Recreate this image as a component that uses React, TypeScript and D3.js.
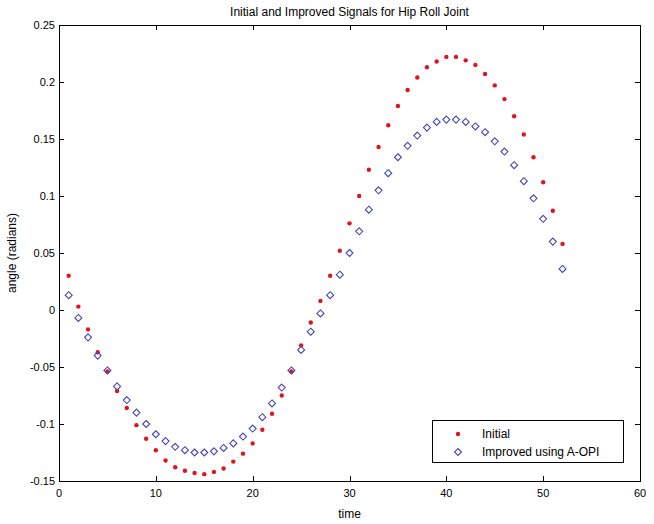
import React, { useEffect, useRef } from "react";
import * as d3 from "d3";

const time = d3.range(1, 53);
const initialSignal = [
  0.030, 0.003, -0.017, -0.037, -0.054, -0.071, -0.086, -0.101, -0.113, -0.123,
  -0.132, -0.138, -0.141, -0.143, -0.144, -0.142, -0.139, -0.133, -0.126, -0.117,
  -0.105, -0.091, -0.075, -0.054, -0.031, -0.011, 0.008, 0.030, 0.052, 0.076,
  0.100, 0.123, 0.143, 0.162, 0.179, 0.193, 0.204, 0.213, 0.218, 0.222,
  0.222, 0.219, 0.215, 0.207, 0.197, 0.185, 0.170, 0.154, 0.134, 0.112,
  0.087, 0.058,
];
const improvedSignal = [
  0.013, -0.007, -0.024, -0.040, -0.053, -0.067, -0.079, -0.090, -0.100, -0.109,
  -0.115, -0.120, -0.123, -0.125, -0.125, -0.124, -0.121, -0.117, -0.111, -0.104,
  -0.094, -0.082, -0.068, -0.053, -0.035, -0.019, -0.003, 0.013, 0.031, 0.050,
  0.069, 0.088, 0.105, 0.120, 0.134, 0.144, 0.153, 0.160, 0.165, 0.167,
  0.167, 0.165, 0.161, 0.156, 0.148, 0.139, 0.127, 0.113, 0.098, 0.080,
  0.060, 0.036,
];
const xTicks = [0, 10, 20, 30, 40, 50, 60];
const yTicks = [-0.15, -0.1, -0.05, 0, 0.05, 0.1, 0.15, 0.2, 0.25];
const legendLabels = ["Initial", "Improved using A-OPI"];
const title = "Initial and Improved Signals for Hip Roll Joint";

const W = 654, H = 524;
const L = 59, R = 640, T = 25, B = 481;
const font = "'Liberation Sans', Arial, sans-serif";

export default function App() {
  const ref = useRef<SVGSVGElement>(null);
  useEffect(() => {
    const svg = d3.select(ref.current);
    svg.selectAll("*").remove();
    const x = d3.scaleLinear().domain([0, 60]).range([L, R]);
    const y = d3.scaleLinear().domain([-0.15, 0.25]).range([B, T]);
    svg.append("rect").attr("width", W).attr("height", H).attr("fill", "#fff");
    const tl = 5;
    const g = svg.append("g").attr("stroke", "#000").attr("stroke-width", 1);
    xTicks.forEach((t) => {
      const px = Math.round(x(t)) + 0.5;
      g.append("line").attr("x1", px).attr("x2", px).attr("y1", B).attr("y2", B - tl);
      g.append("line").attr("x1", px).attr("x2", px).attr("y1", T).attr("y2", T + tl);
    });
    yTicks.forEach((t) => {
      const py = Math.round(y(t)) + 0.5;
      g.append("line").attr("x1", L).attr("x2", L + tl).attr("y1", py).attr("y2", py);
      g.append("line").attr("x1", R).attr("x2", R - tl).attr("y1", py).attr("y2", py);
    });
    g.append("rect").attr("x", L + 0.5).attr("y", T + 0.5).attr("width", R - L).attr("height", B - T).attr("fill", "none");

    const txt = svg.append("g").attr("font-family", font).attr("font-size", 11).attr("fill", "#000");
    xTicks.forEach((t) => {
      txt.append("text").attr("x", x(t)).attr("y", B + 16).attr("text-anchor", "middle").text(String(t));
    });
    yTicks.forEach((t) => {
      txt.append("text").attr("x", L - 4).attr("y", y(t) + 4).attr("text-anchor", "end").text(String(t));
    });
    txt.append("text").attr("x", (L + R) / 2).attr("y", 518).attr("text-anchor", "middle").attr("font-size", 12).text("time");
    txt.append("text").attr("transform", `translate(16,${(T + B) / 2}) rotate(-90)`).attr("text-anchor", "middle").attr("font-size", 12).text("angle (radians)");
    txt.append("text").attr("x", (L + R) / 2).attr("y", 16).attr("text-anchor", "middle").attr("font-size", 12).text(title);

    const diamond = (cx: number, cy: number, r: number) => `M${cx},${cy - r}L${cx + r},${cy}L${cx},${cy + r}L${cx - r},${cy}Z`;
    const red = "#e0141e";
    const blue = "#4646b4";
    const pts = svg.append("g");
    time.forEach((t, i) => {
      pts.append("circle").attr("cx", x(t)).attr("cy", y(initialSignal[i])).attr("r", 2.2).attr("fill", red);
    });
    time.forEach((t, i) => {
      pts.append("path").attr("d", diamond(x(t), y(improvedSignal[i]), 3.5)).attr("fill", "none").attr("stroke", blue).attr("stroke-width", 1.1);
    });

    const lg = svg.append("g");
    lg.append("rect").attr("x", 432.5).attr("y", 420.5).attr("width", 191).attr("height", 42).attr("fill", "#fff").attr("stroke", "#000");
    lg.append("circle").attr("cx", 458).attr("cy", 434).attr("r", 2.2).attr("fill", red);
    lg.append("path").attr("d", diamond(458, 452, 3.5)).attr("fill", "none").attr("stroke", blue).attr("stroke-width", 1.1);
    legendLabels.forEach((lab, i) => {
      lg.append("text").attr("x", 482).attr("y", 438 + i * 18).attr("font-family", font).attr("font-size", 12).text(lab);
    });
  }, []);
  return (
    <div style={{ position: "absolute", left: 0, top: 0 }}>
      <svg ref={ref} width={W} height={H} style={{ display: "block" }} />
    </div>
  );
}
